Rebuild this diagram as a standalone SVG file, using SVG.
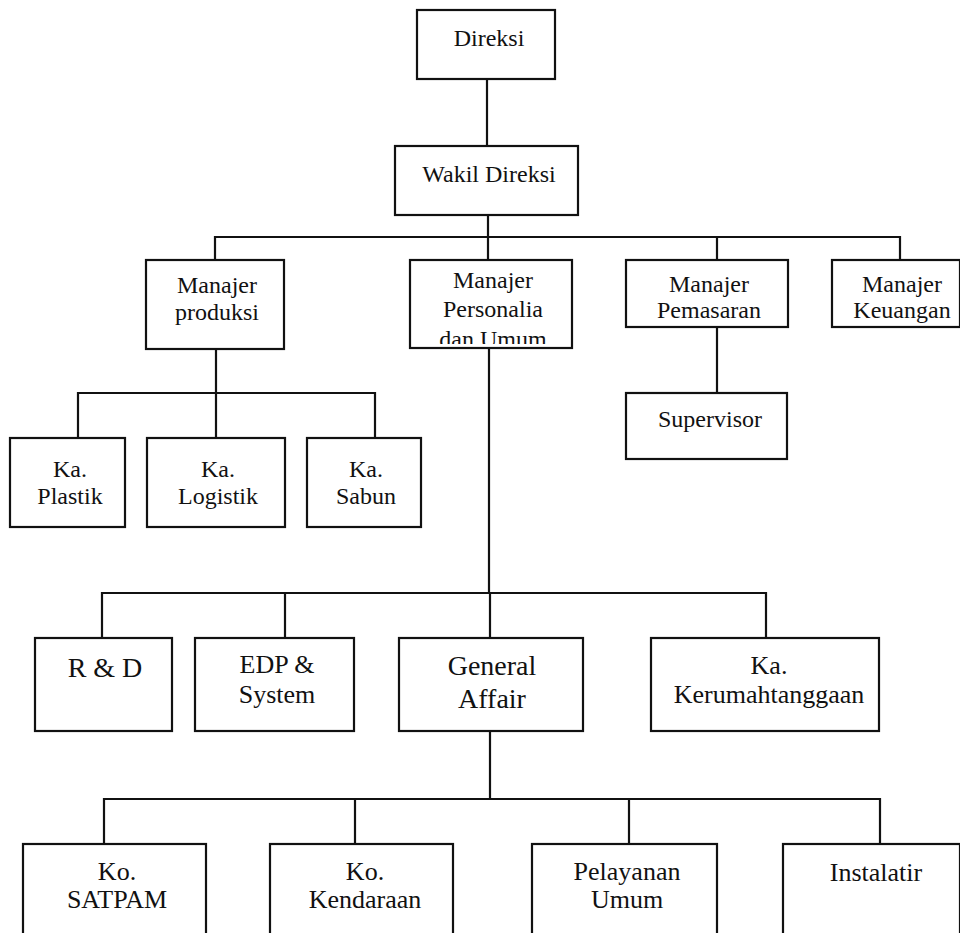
<svg xmlns="http://www.w3.org/2000/svg" width="960" height="933" viewBox="0 0 960 933">
<defs>
<style>
.box{fill:#fff;stroke:#111;stroke-width:2.2}
.ln{stroke:#111;stroke-width:2.2;fill:none;stroke-linecap:square}
text{font-family:'Liberation Serif','DejaVu Serif','Times New Roman',serif;font-size:24px;fill:#111;text-anchor:middle}
.lg{font-size:26px}
.xl{font-size:28px}
</style>
<clipPath id="clipP"><rect x="410" y="260" width="162" height="84"/></clipPath>
</defs>
<rect width="960" height="933" fill="#fff"/>
<g id="connectors">
<path class="ln" d="M487 79V146"/>
<path class="ln" d="M488 215V237M215 237H900M215 237V260M488 237V260M717 237V260M900 237V260"/>
<path class="ln" d="M216 349V393M78 393H375M78 393V438M216 393V438M375 393V438"/>
<path class="ln" d="M717 327V393"/>
<path class="ln" d="M489 348V593M102 593H766M102 593V638M285 593V638M490 593V638M766 593V638"/>
<path class="ln" d="M490 731V799M104 799H880M104 799V844M355 799V844M629 799V844M880 799V844"/>
</g>
<g font-family="Liberation Serif, DejaVu Serif, serif">
<g id="direksi"><rect class="box" x="417" y="10" width="138" height="69"/><text x="489" y="46">Direksi</text></g>
<g id="wakil"><rect class="box" x="395" y="146" width="183" height="69"/><text x="489" y="182">Wakil Direksi</text></g>
<g id="produksi"><rect class="box" x="146" y="260" width="138" height="89"/><text x="217" y="293">Manajer</text><text x="217" y="320">produksi</text></g>
<g id="personalia"><rect class="box" x="410" y="260" width="162" height="88"/><text x="493" y="288">Manajer</text><text x="493" y="317">Personalia</text><text x="493" y="347" clip-path="url(#clipP)">dan Umum</text></g>
<g id="pemasaran"><rect class="box" x="626" y="260" width="162" height="67"/><text x="709" y="292">Manajer</text><text x="709" y="318">Pemasaran</text></g>
<g id="keuangan"><rect class="box" x="832" y="260" width="128" height="67"/><text x="902" y="292">Manajer</text><text x="902" y="318">Keuangan</text></g>
<g id="supervisor"><rect class="box" x="626" y="393" width="161" height="66"/><text x="710" y="427">Supervisor</text></g>
<g id="plastik"><rect class="box" x="10" y="438" width="115" height="89"/><text x="70" y="477">Ka.</text><text x="70" y="504">Plastik</text></g>
<g id="logistik"><rect class="box" x="147" y="438" width="138" height="89"/><text x="218" y="477">Ka.</text><text x="218" y="504">Logistik</text></g>
<g id="sabun"><rect class="box" x="307" y="438" width="114" height="89"/><text x="366" y="477">Ka.</text><text x="366" y="504">Sabun</text></g>
<g id="rnd"><rect class="box" x="35" y="638" width="137" height="93"/><text class="xl" x="105" y="677">R &amp; D</text></g>
<g id="edp"><rect class="box" x="195" y="638" width="159" height="93"/><text class="lg" x="277" y="673">EDP &amp;</text><text class="lg" x="277" y="703">System</text></g>
<g id="general"><rect class="box" x="399" y="638" width="184" height="93"/><text class="xl" x="492" y="675">General</text><text class="xl" x="492" y="708">Affair</text></g>
<g id="kerumah"><rect class="box" x="651" y="638" width="228" height="93"/><text class="lg" x="769" y="674">Ka.</text><text class="lg" x="769" y="703">Kerumahtanggaan</text></g>
<g id="satpam"><rect class="box" x="23" y="844" width="183" height="100"/><text class="lg" x="117" y="880">Ko.</text><text class="lg" x="117" y="908">SATPAM</text></g>
<g id="kendaraan"><rect class="box" x="270" y="844" width="183" height="100"/><text class="lg" x="365" y="880">Ko.</text><text class="lg" x="365" y="908">Kendaraan</text></g>
<g id="pelayanan"><rect class="box" x="532" y="844" width="185" height="100"/><text class="lg" x="627" y="880">Pelayanan</text><text class="lg" x="627" y="908">Umum</text></g>
<g id="instalatir"><rect class="box" x="783" y="844" width="177" height="100"/><text class="lg" x="876" y="881">Instalatir</text></g>
</g>
</svg>
